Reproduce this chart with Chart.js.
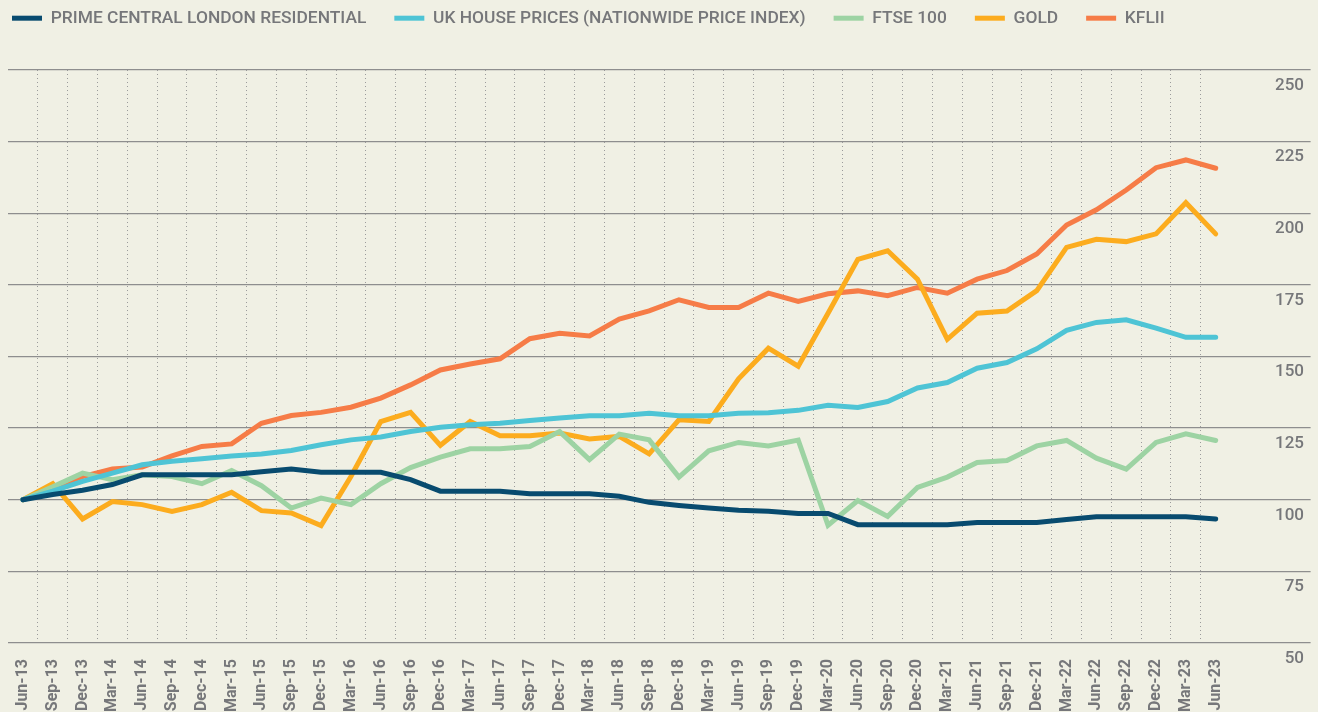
<!DOCTYPE html>
<html>
<head>
<meta charset="utf-8">
<script src="https://cdn.jsdelivr.net/npm/chart.js@4.4.1/dist/chart.umd.min.js"></script>
<style>
  html, body { margin: 0; padding: 0; background: #f0f0e4; }
  #wrap { width: 1318px; height: 712px; position: relative; }
</style>
</head>
<body>
<div id="wrap"><canvas id="chart"></canvas></div>
<script>
// Quarterly index, Jun-13 = 100
const labels = [
  'Jun-13', 'Sep-13', 'Dec-13', 'Mar-14', 'Jun-14', 'Sep-14', 'Dec-14', 'Mar-15', 'Jun-15', 'Sep-15',
  'Dec-15', 'Mar-16', 'Jun-16', 'Sep-16', 'Dec-16', 'Mar-17', 'Jun-17', 'Sep-17', 'Dec-17', 'Mar-18',
  'Jun-18', 'Sep-18', 'Dec-18', 'Mar-19', 'Jun-19', 'Sep-19', 'Dec-19', 'Mar-20', 'Jun-20', 'Sep-20',
  'Dec-20', 'Mar-21', 'Jun-21', 'Sep-21', 'Dec-21', 'Mar-22', 'Jun-22', 'Sep-22', 'Dec-22', 'Mar-23',
  'Jun-23'
];

const primeCentralLondon = [
  100, 101.8, 103.3, 105.3, 108.7, 108.7, 108.7, 108.7, 109.8, 110.7,
  109.6, 109.6, 109.6, 107, 103, 103, 103, 102.1, 102.1, 102.1,
  101.2, 99.1, 98, 97.1, 96.3, 96, 95.2, 95.2, 91.3, 91.3,
  91.3, 91.3, 92.1, 92.1, 92.1, 93.1, 94.1, 94.1, 94.1, 94.1,
  93.3
];

const ukHousePrices = [
  100, 103, 106.4, 109.3, 112.2, 113.4, 114.3, 115.3, 116, 117.2,
  119.2, 120.9, 121.9, 123.8, 125.3, 126.2, 126.7, 127.7, 128.5, 129.3,
  129.3, 130.2, 129.3, 129.3, 130.2, 130.4, 131.2, 133, 132.2, 134.3,
  139, 140.9, 145.9, 147.9, 152.7, 159.1, 161.9, 162.8, 159.9, 156.7,
  156.7
];

const ftse100 = [
  100, 104.5, 109.3, 107, 108.7, 108.1, 105.6, 110.2, 104.9, 97.1,
  100.6, 98.3, 105.6, 111.2, 114.9, 117.8, 117.8, 118.6, 123.8, 114,
  122.9, 120.9, 107.9, 117.1, 120, 118.8, 120.8, 91.1, 99.7, 94.2,
  104.3, 107.9, 113, 113.7, 118.8, 120.7, 114.5, 110.7, 120, 123,
  120.7
];

const gold = [
  100, 105.6, 93.3, 99.4, 98.3, 95.9, 98.3, 102.6, 96.2, 95.4,
  91, 108.1, 127.3, 130.5, 119, 127.3, 122.3, 122.3, 123.3, 121.2,
  122.1, 116, 127.9, 127.3, 142.2, 152.9, 146.6, 165.1, 183.9, 186.9,
  177, 156, 165.1, 165.9, 173, 188.1, 190.9, 190.1, 192.8, 203.7,
  192.8
];

const kflii = [
  100, 104.4, 108.1, 110.7, 111.4, 115.3, 118.6, 119.5, 126.7, 129.4,
  130.5, 132.3, 135.5, 140.1, 145.3, 147.4, 149.2, 156.2, 158.1, 157.2,
  163.1, 165.9, 169.8, 167.1, 167.1, 172.1, 169.2, 171.9, 172.9, 171.2,
  174.1, 172.1, 177, 180, 185.8, 195.9, 201.2, 208.1, 215.9, 218.6,
  215.7
];

const yMin = 50;
const yMax = 250;
const yStep = 25;

const textGrey = '#76777a';
const gridGrey = '#8e8e8e';

Chart.defaults.font.family = 'Roboto, "Liberation Sans", sans-serif';
Chart.defaults.color = textGrey;

function series(label, data, color) {
  return {
    label,
    data,
    borderColor: color,
    backgroundColor: color,
    borderWidth: 5,
    borderCapStyle: 'round',
    borderJoinStyle: 'miter',
    pointRadius: 0,
    pointHoverRadius: 0,
    tension: 0
  };
}

// legend sits in its own 70px band, items pulled to the left edge
const legendBand = {
  id: 'legendBand',
  beforeInit(chart) {
    const fit = chart.legend.fit;
    chart.legend.fit = function () {
      fit.call(this);
      this.height = 70;
    };
  },
  afterLayout(chart) {
    const pad = chart.options.plugins.legend.labels.padding;
    chart.legend.left = 12 - pad;
    chart.legend.top = 9.5 - pad;
  }
};

new Chart(document.getElementById('chart'), {
  type: 'line',
  data: {
    labels,
    datasets: [
      series('PRIME CENTRAL LONDON RESIDENTIAL', primeCentralLondon, '#084b6f'),
      series('UK HOUSE PRICES (NATIONWIDE PRICE INDEX)', ukHousePrices, '#4ec4d5'),
      series('FTSE 100', ftse100, '#9dd3a3'),
      series('GOLD', gold, '#fcac1e'),
      series('KFLII', kflii, '#f67c47')
    ]
  },
  options: {
    responsive: true,
    maintainAspectRatio: false,
    animation: false,
    layout: { padding: { left: 8, right: 14, top: 0, bottom: 0 } },
    plugins: {
      tooltip: { enabled: false },
      legend: {
        position: 'top',
        align: 'start',
        labels: {
          usePointStyle: true,
          pointStyle: 'line',
          pointStyleWidth: 30,
          padding: 28,
          color: textGrey,
          font: { size: 17.4, weight: '500' }
        }
      }
    },
    scales: {
      x: {
        offset: true,
        grid: {
          offset: true,
          drawTicks: false,
          lineWidth: 1,
          color: c => (c.type === 'tick' && c.index > 0) ? '#9b9b9b' : 'rgba(0,0,0,0)'
        },
        border: { display: false, dash: [1, 3] },
        ticks: {
          autoSkip: false,
          maxRotation: 90,
          minRotation: 90,
          padding: 16,
          color: textGrey,
          font: { size: 16, weight: 'bold' }
        },
        afterFit: scale => { scale.height = 69; }
      },
      y: {
        position: 'right',
        min: yMin,
        max: yMax,
        grid: {
          color: gridGrey,
          lineWidth: 1.3,
          drawTicks: true,
          tickLength: 80
        },
        border: { display: false },
        ticks: {
          stepSize: yStep,
          crossAlign: 'far',
          labelOffset: 15.5,
          color: textGrey,
          font: { size: 17, weight: '500' }
        },
        afterFit: scale => { scale.width = 73.4; }
      }
    }
  },
  plugins: [legendBand]
});
</script>
</body>
</html>
